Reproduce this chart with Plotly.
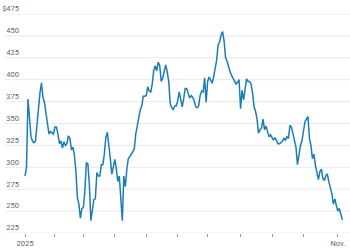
import plotly.graph_objects as go
import pandas as pd

holidays = ["2025-01-01", "2025-01-09", "2025-01-20", "2025-02-17", "2025-04-18",
            "2025-05-26", "2025-06-19", "2025-07-04", "2025-09-01"]

prices = [
    290, 300, 378, 355, 335, 330, 328, 330, 350, 365,
    385, 396, 380, 374, 361, 349, 338, 341, 339, 338,
    346, 346, 338, 327, 330, 322, 329, 325, 327, 336,
    333, 320, 323, 314, 295, 265, 258, 242, 253, 254,
    274, 305, 304, 280, 239, 255, 263, 264, 294, 290,
    290, 303, 303, 315, 334, 340, 327, 310, 292, 300,
    309, 298, 284, 290, 260, 239, 290, 278, 297, 310,
    312, 315, 317, 321, 338, 347, 353, 366, 370, 381,
    381, 382, 392, 387, 386, 395, 411, 416, 410, 420,
    416, 398, 402, 408, 417, 409, 398, 373, 368, 366,
    370, 370, 376, 386, 378, 369, 378, 390, 390, 384,
    379, 382, 380, 376, 369, 368, 370, 382, 387, 386,
    402, 374, 398, 403, 400, 396, 403, 415, 422, 440,
    443, 451, 455, 444, 425, 421, 414, 409, 405, 401,
    397, 395, 397, 400, 367, 388, 377, 387, 401, 398,
    398, 395, 385, 369, 364, 355, 339, 343, 345, 355,
    343, 347, 341, 335, 337, 333, 331, 334, 330, 327,
    327, 328, 330, 333, 331, 335, 333, 348, 346, 339,
    330, 323, 303, 317, 325, 330, 343, 352, 355, 358,
    333, 325, 310, 315, 302, 293, 286, 295, 298, 287,
    285, 291, 292, 283, 276, 270, 258, 264, 256, 250,
    253, 245, 240,
]

y_ticks = [225, 250, 275, 300, 325, 350, 375, 400, 425, 450, 475]
y_labels = ["225", "250", "275", "300", "325", "350", "375", "400", "425", "450", "$475"]

dates = pd.bdate_range("2025-01-02", periods=len(prices), freq="C", holidays=holidays)
idx = list(range(len(prices)))
tick_idx = [i for i, d in enumerate(dates) if i == 0 or d.month != dates[i - 1].month]
tick_text = ["2025"] + [""] * (len(tick_idx) - 2) + ["Nov."]

fig = go.Figure()
fig.add_trace(go.Scatter(
    x=idx, y=prices, mode="lines",
    line=dict(color="#1b7db6", width=1.5),
    hoverinfo="skip",
))

grid_ext = -15 / 330
for v in y_ticks:
    fig.add_shape(type="line", xref="paper", yref="y", x0=grid_ext, x1=1, y0=v, y1=v,
                  line=dict(color="#e9e9e9", width=1), layer="below")

fig.update_layout(
    width=350, height=250,
    margin=dict(l=20, r=0, t=14, b=17),
    plot_bgcolor="white", paper_bgcolor="white",
    showlegend=False,
    font=dict(family="Roboto, Arial, sans-serif", size=7.5, color="#666"),
)
fig.update_xaxes(
    range=[-3.34, 217.1],
    tickmode="array", tickvals=tick_idx, ticktext=tick_text,
    ticks="outside", ticklen=3, tickwidth=1, tickcolor="#999",
    showgrid=False, zeroline=False, showline=False,
    tickfont=dict(size=7.5, color="#666"),
)
fig.update_yaxes(
    range=[225, 475],
    tickmode="array", tickvals=y_ticks, ticktext=y_labels,
    ticklabelposition="outside top",
    ticks="", showgrid=False, zeroline=False, showline=False,
    tickfont=dict(size=7.5, color="#666"),
)

fig.write_html("out.html", config={"displayModeBar": False})
